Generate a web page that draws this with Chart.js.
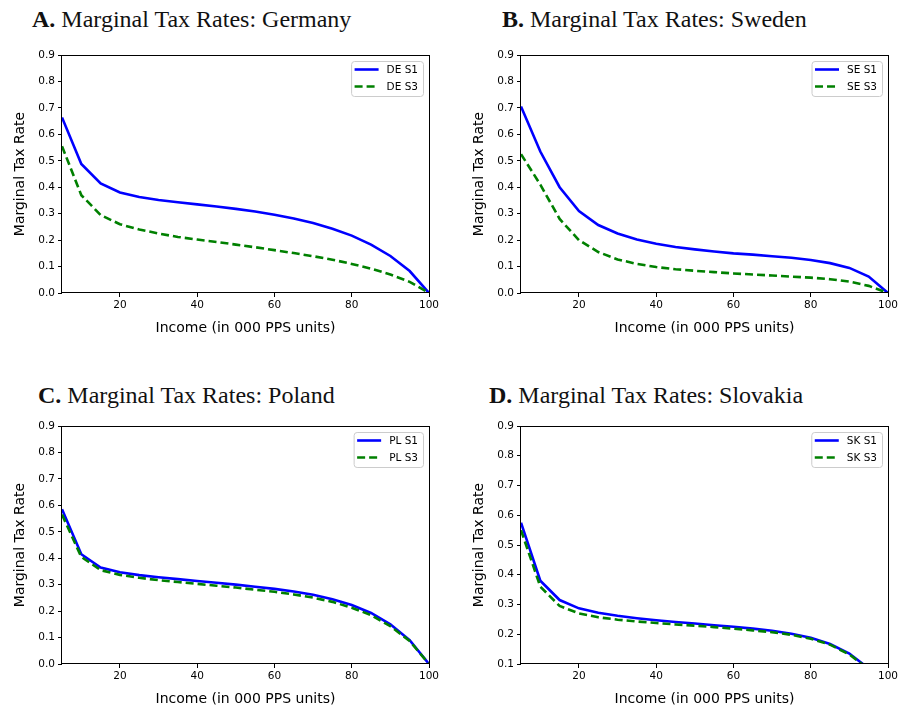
<!DOCTYPE html>
<html>
<head>
<meta charset="utf-8">
<script src="https://cdn.jsdelivr.net/npm/chart.js@4.4.1/dist/chart.umd.min.js"></script>
<style>
  html, body { margin: 0; padding: 0; background: #fff; }
  body { width: 901px; height: 708px; position: relative; overflow: hidden; }
  canvas { position: absolute; }
  .title { position: absolute; font-family: "Liberation Serif", serif; font-size: 24px; line-height: 24px; color: #111; white-space: nowrap; }
  .title b { font-weight: bold; }
</style>
</head>
<body>
<div class="title" style="left:32px; top:7px;"><b>A.</b> Marginal Tax Rates: Germany</div>
<div class="title" style="left:502px; top:7px;"><b>B.</b> Marginal Tax Rates: Sweden</div>
<div class="title" style="left:38px; top:383px;"><b>C.</b> Marginal Tax Rates: Poland</div>
<div class="title" style="left:489px; top:383px;"><b>D.</b> Marginal Tax Rates: Slovakia</div>

<canvas id="chartDE" width="445" height="298" style="left:0px; top:40px;"></canvas>
<canvas id="chartSE" width="442" height="298" style="left:459px; top:40px;"></canvas>
<canvas id="chartPL" width="445" height="298" style="left:0px; top:411px;"></canvas>
<canvas id="chartSK" width="442" height="298" style="left:459px; top:411px;"></canvas>

<script>
// Income levels (000 PPS units)
const incomes = [5, 10, 15, 20, 25, 30, 35, 40, 45, 50, 55, 60, 65, 70, 75, 80, 85, 90, 95, 100];

// Marginal tax rates
const deS1 = [0.664, 0.488, 0.414, 0.380, 0.363, 0.352, 0.343, 0.335, 0.327, 0.318, 0.308, 0.296, 0.282, 0.265, 0.243, 0.217, 0.183, 0.140, 0.083, 0.0];
const deS3 = [0.555, 0.370, 0.295, 0.260, 0.240, 0.225, 0.212, 0.202, 0.193, 0.183, 0.173, 0.162, 0.151, 0.139, 0.126, 0.110, 0.092, 0.070, 0.042, 0.0];
const seS1 = [0.705, 0.535, 0.400, 0.310, 0.257, 0.225, 0.202, 0.186, 0.174, 0.165, 0.157, 0.150, 0.145, 0.139, 0.133, 0.125, 0.113, 0.095, 0.062, 0.0];
const seS3 = [0.525, 0.410, 0.280, 0.200, 0.155, 0.127, 0.110, 0.098, 0.090, 0.084, 0.079, 0.074, 0.070, 0.066, 0.062, 0.058, 0.052, 0.043, 0.027, 0.0];
const plS1 = [0.585, 0.415, 0.365, 0.347, 0.336, 0.328, 0.321, 0.314, 0.307, 0.300, 0.292, 0.284, 0.274, 0.262, 0.245, 0.223, 0.193, 0.150, 0.090, 0.0];
const plS3 = [0.565, 0.405, 0.355, 0.337, 0.326, 0.317, 0.310, 0.303, 0.296, 0.289, 0.281, 0.273, 0.263, 0.251, 0.235, 0.213, 0.185, 0.143, 0.087, 0.0];
const skS1 = [0.575, 0.380, 0.315, 0.287, 0.272, 0.262, 0.254, 0.247, 0.241, 0.236, 0.230, 0.225, 0.219, 0.212, 0.202, 0.188, 0.167, 0.135, 0.085, 0.0];
const skS3 = [0.550, 0.360, 0.295, 0.270, 0.257, 0.249, 0.243, 0.238, 0.233, 0.229, 0.224, 0.219, 0.213, 0.207, 0.198, 0.185, 0.165, 0.132, 0.083, 0.0];

// Tick labels
const xTicks = [20, 40, 60, 80, 100];
const yTicksFull = [0.0, 0.1, 0.2, 0.3, 0.4, 0.5, 0.6, 0.7, 0.8, 0.9];
const yTicksSK = [0.1, 0.2, 0.3, 0.4, 0.5, 0.6, 0.7, 0.8, 0.9];

Chart.defaults.font.family = '"DejaVu Sans", sans-serif';
Chart.defaults.color = '#000';

// black box around the plot area, like matplotlib spines
const framePlugin = {
    id: 'frame',
    afterDatasetsDraw(chart) {
        const { ctx, chartArea: a } = chart;
        ctx.save();
        ctx.strokeStyle = '#000';
        ctx.lineWidth = 1;
        ctx.strokeRect(Math.round(a.left) - 0.5, Math.round(a.top) + 0.5,
            Math.round(a.width) + 1, Math.round(a.height) - 1);
        ctx.restore();
    }
};

// legend box in the upper right corner of the plot
const legendPlugin = {
    id: 'boxLegend',
    afterDraw(chart) {
        const { ctx, chartArea: a } = chart;
        const sets = chart.data.datasets;
        ctx.save();
        ctx.font = '10.5px "DejaVu Sans"';
        const textW = Math.max(...sets.map(d => ctx.measureText(d.label).width));
        const w = 3.5 + 24 + 8 + textW + 5;
        const h = 35;
        const x = a.right - 6 - w;
        const y = a.top + 6;
        ctx.beginPath();
        ctx.roundRect(x + 0.5, y + 0.5, w, h, 3);
        ctx.fillStyle = 'rgba(255,255,255,0.85)';
        ctx.fill();
        ctx.strokeStyle = '#cccccc';
        ctx.lineWidth = 1;
        ctx.stroke();
        sets.forEach((d, i) => {
            const cy = y + 8.5 + i * 17;
            ctx.beginPath();
            ctx.setLineDash(d.borderDash || []);
            ctx.strokeStyle = d.borderColor;
            ctx.lineWidth = d.borderWidth;
            ctx.moveTo(x + 3.5, cy);
            ctx.lineTo(x + 27.5, cy);
            ctx.stroke();
            ctx.setLineDash([]);
            ctx.fillStyle = '#000';
            ctx.textBaseline = 'middle';
            ctx.fillText(d.label, x + 35.5, cy + 0.5);
        });
        ctx.restore();
    }
};

function makeChart(id, code, s1, s3, yMin, yTicks, rightPad) {
    const ctx = document.getElementById(id).getContext('2d');
    return new Chart(ctx, {
        type: 'line',
        data: {
            datasets: [{
                label: code + ' S1',
                data: incomes.map((x, i) => ({ x, y: s1[i] })),
                borderColor: '#0000ff',
                borderWidth: 2.6,
                clip: 0,
                order: 1
            }, {
                label: code + ' S3',
                data: incomes.map((x, i) => ({ x, y: s3[i] })),
                borderColor: '#008000',
                borderWidth: 2.6,
                borderDash: [8, 4],
                clip: 0,
                order: 0
            }]
        },
        options: {
            responsive: false,
            animation: false,
            layout: { padding: { left: 0, right: rightPad, top: 15, bottom: 0 } },
            elements: { point: { radius: 0 }, line: { tension: 0 } },
            plugins: { legend: { display: false }, tooltip: { enabled: false } },
            scales: {
                x: {
                    type: 'linear',
                    min: 5,
                    max: 100,
                    afterBuildTicks: s => { s.ticks = xTicks.map(v => ({ value: v })); },
                    afterFit: s => { s.height = 45; },
                    grid: { drawOnChartArea: false, tickLength: 4, color: '#000' },
                    border: { display: false },
                    ticks: { font: { size: 10.5 }, padding: 2, maxRotation: 0, callback: v => String(v) },
                    title: { display: true, text: 'Income (in 000 PPS units)', font: { size: 14 }, padding: { top: 0, bottom: 1 } }
                },
                y: {
                    type: 'linear',
                    min: yMin,
                    max: 0.9,
                    afterBuildTicks: s => { s.ticks = yTicks.map(v => ({ value: v })); },
                    afterFit: s => { s.width = 62; },
                    grid: { drawOnChartArea: false, tickLength: 4, color: '#000' },
                    border: { display: false },
                    ticks: { font: { size: 10.5 }, padding: 3, callback: v => v.toFixed(1) },
                    title: { display: true, text: 'Marginal Tax Rate', font: { size: 14 }, padding: { top: 12, bottom: 0 } }
                }
            }
        },
        plugins: [framePlugin, legendPlugin]
    });
}

makeChart('chartDE', 'DE', deS1, deS3, 0, yTicksFull, 16);
makeChart('chartSE', 'SE', seS1, seS3, 0, yTicksFull, 13);
makeChart('chartPL', 'PL', plS1, plS3, 0, yTicksFull, 16);
makeChart('chartSK', 'SK', skS1, skS3, 0.1, yTicksSK, 13);
</script>
</body>
</html>
